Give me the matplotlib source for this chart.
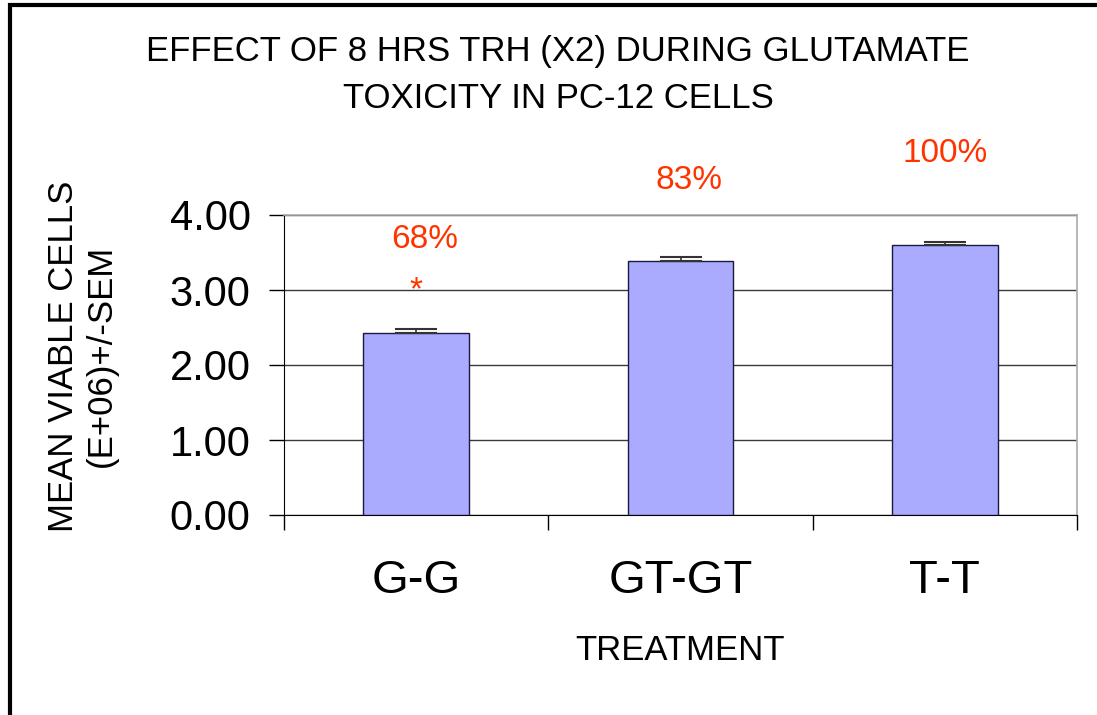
import matplotlib
matplotlib.use("Agg")
import matplotlib.pyplot as plt
from matplotlib.patches import Rectangle

categories = ["G-G", "GT-GT", "T-T"]
means = [2.43, 3.39, 3.60]
sem = [0.045, 0.045, 0.036]
percent_labels = ["68%", "83%", "100%"]
percent_y = [3.68, 4.46, 4.82]
star_y = 2.99
yticks = [0.0, 1.0, 2.0, 3.0, 4.0]

plt.rcParams['font.family'] = ['Liberation Sans', 'DejaVu Sans']

W, H = 1097, 715
fig = plt.figure(figsize=(W / 100, H / 100), dpi=100)
ax = fig.add_axes([284 / W, 1 - 515 / H, (1077 - 284) / W, 300 / H])

x = list(range(len(categories)))
ax.bar(x, means, width=0.4, color="#AAAAFF", edgecolor="#1a1a40", linewidth=1.0, zorder=3)
ax.errorbar(x, means, yerr=[[0] * 3, sem], fmt="none", ecolor="#333333",
            elinewidth=1.2, capsize=15, capthick=1.5, zorder=4)

ax.set_xlim(-0.5, 2.5)
ax.set_ylim(0, 4)
ax.set_yticks(yticks)
ax.set_yticklabels([f"{v:.2f}" for v in yticks], fontsize=30)
ax.yaxis.grid(True, color="#3a3a3a", linewidth=1.0, zorder=1)
ax.set_xticks([-0.5, 0.5, 1.5, 2.5], minor=False)
ax.set_xticklabels([])
ax.set_xticks(x, minor=True)
ax.set_xticklabels(categories, minor=True, fontsize=34)
ax.tick_params(axis="x", which="minor", length=0, pad=32)
ax.tick_params(axis="x", which="major", length=11, width=1, direction="out", color="black")
ax.tick_params(axis="y", length=11, width=1, direction="out", pad=13, color="black")

for s in ["top", "right"]:
    ax.spines[s].set_color("#aaaaaa")
    ax.spines[s].set_linewidth(1.2)
ax.spines["left"].set_color("black")
ax.spines["bottom"].set_color("black")

red = "#FF3300"
label_dx = [6, 6, 0]
for xi, lab, py, dx in zip(x, percent_labels, percent_y, label_dx):
    ax.annotate(lab, (xi, py), xytext=(dx, 0), textcoords="offset points",
                color=red, fontsize=24, ha="center", va="center", annotation_clip=False)
ax.text(0, star_y, "*", color=red, fontsize=24, ha="center", va="center", clip_on=False)

fig.text(558 / W, 1 - 75 / H, "EFFECT OF 8 HRS TRH (X2) DURING GLUTAMATE\nTOXICITY IN PC-12 CELLS",
         ha="center", va="center", fontsize=25, linespacing=1.5)
fig.text(64 / W, 1 - 356 / H, "MEAN VIABLE CELLS", rotation=90, ha="center", va="center", fontsize=25)
fig.text(101 / W, 1 - 356 / H, "(E+06)+/-SEM", rotation=90, ha="center", va="center", fontsize=25)
fig.text(680 / W, 1 - 650 / H, "TREATMENT", ha="center", va="center", fontsize=25)

fig.patches.append(Rectangle((9.5 / W, -0.05), 1.2, 1 - 4.5 / H + 0.05, transform=fig.transFigure,
                             fill=False, edgecolor="black", linewidth=3))

fig.savefig("out.png", dpi=100)
